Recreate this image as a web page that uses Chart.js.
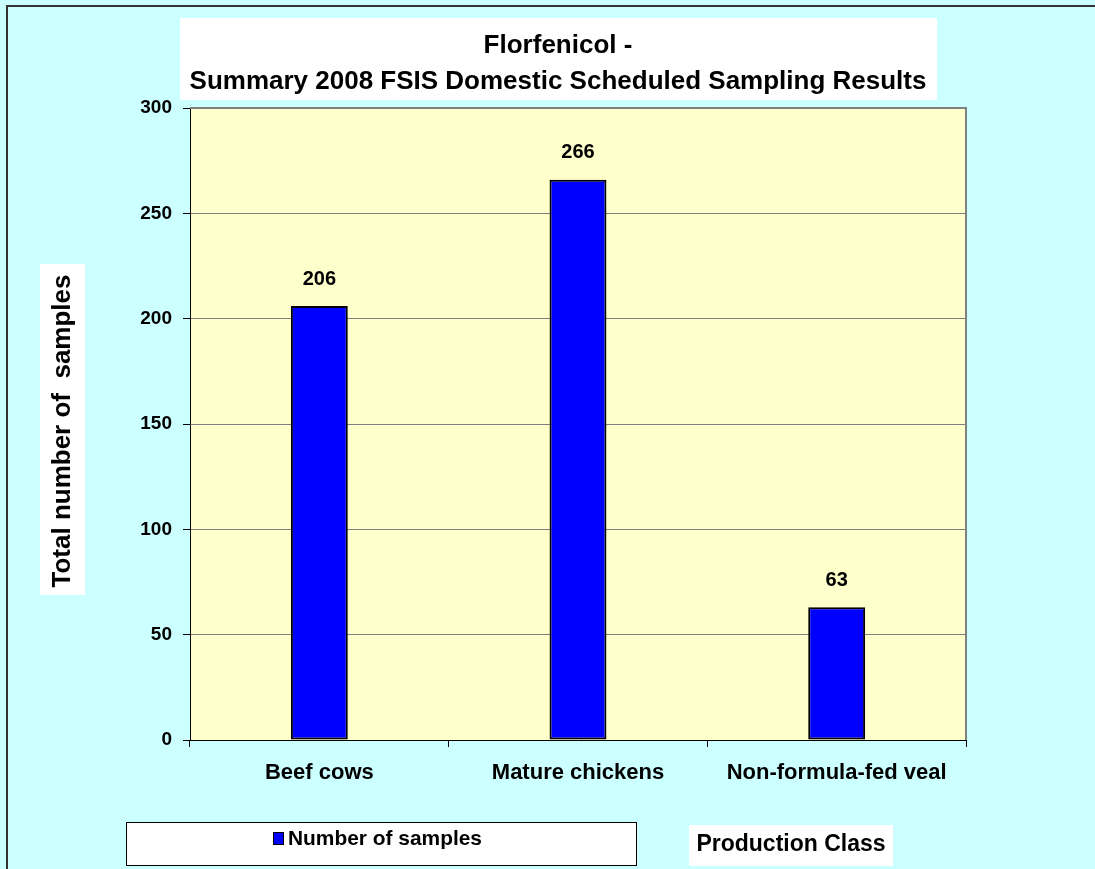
<!DOCTYPE html>
<html>
<head>
<meta charset="utf-8">
<title>Florfenicol - Summary 2008 FSIS Domestic Scheduled Sampling Results</title>
<script src="https://cdn.jsdelivr.net/npm/chart.js@4.4.1/dist/chart.umd.min.js"></script>
<style>
  html, body { margin: 0; padding: 0; background: #CCFFFF; }
  #wrap { width: 1095px; height: 869px; }
</style>
</head>
<body>
<div id="wrap"><canvas id="samplesChart" width="1095" height="869"></canvas></div>
<script>
// Data
const productionClasses = ['Beef cows', 'Mature chickens', 'Non-formula-fed veal'];
const sampleCounts = [206, 266, 63];
const yTicks = [0, 50, 100, 150, 200, 250, 300];
const seriesLabel = 'Number of samples';
const titleLines = ['Florfenicol -', 'Summary 2008 FSIS Domestic Scheduled Sampling Results'];
const yTitle = 'Total number of  samples';
const xTitle = 'Production Class';

const FONT = 'Arial, "Liberation Sans", sans-serif';

// draws the Excel-style decoration: backgrounds, white boxes, titles, legend, value labels
const decorations = {
    id: 'decorations',
    beforeDraw(chart) {
        const ctx = chart.ctx;
        const area = chart.chartArea;
        ctx.save();
        // page background
        ctx.fillStyle = '#CCFFFF';
        ctx.fillRect(0, 0, chart.width, chart.height);
        // outer frame (only top / left visible)
        ctx.fillStyle = '#333333';
        ctx.fillRect(6, 5, chart.width - 6, 2);
        ctx.fillRect(6, 5, 2, chart.height - 5);
        // plot area
        ctx.fillStyle = '#FFFFCC';
        ctx.fillRect(area.left, area.top, area.right - area.left, area.bottom - area.top);

        // title box
        ctx.fillStyle = '#FFFFFF';
        ctx.fillRect(180, 18, 757, 82);
        ctx.fillStyle = '#000000';
        ctx.textAlign = 'center';
        ctx.textBaseline = 'middle';
        ctx.font = 'bold 26px ' + FONT;
        ctx.fillText(titleLines[0], 558, 46, 752);
        ctx.fillText(titleLines[1], 558, 82, 752);

        // y axis title box
        ctx.fillStyle = '#FFFFFF';
        ctx.fillRect(40, 264, 45, 331);
        ctx.save();
        ctx.translate(63, 431);
        ctx.rotate(-Math.PI / 2);
        ctx.fillStyle = '#000000';
        ctx.font = 'bold 26px ' + FONT;
        ctx.fillText(yTitle, 0, 0, 320);
        ctx.restore();

        // legend box
        ctx.fillStyle = '#FFFFFF';
        ctx.fillRect(126, 822, 511, 44);
        ctx.strokeStyle = '#000000';
        ctx.lineWidth = 1;
        ctx.strokeRect(126.5, 822.5, 510, 43);
        const ds = chart.data.datasets[0];
        ctx.fillStyle = ds.backgroundColor;
        ctx.fillRect(273, 832, 11, 13);
        ctx.strokeRect(273.5, 832.5, 10, 12);
        ctx.fillStyle = '#000000';
        ctx.textAlign = 'left';
        ctx.font = 'bold 21px ' + FONT;
        ctx.fillText(ds.label, 288, 839, 194);

        // production class box
        ctx.fillStyle = '#FFFFFF';
        ctx.fillRect(689, 825, 204, 41);
        ctx.fillStyle = '#000000';
        ctx.textAlign = 'center';
        ctx.font = 'bold 23px ' + FONT;
        ctx.fillText(xTitle, 791, 845, 192);
        ctx.restore();
    },
    beforeDatasetsDraw(chart) {
        const ctx = chart.ctx;
        const area = chart.chartArea;
        ctx.save();
        ctx.strokeStyle = '#808080';
        ctx.lineWidth = 2;
        ctx.beginPath();
        ctx.moveTo(area.left, area.top);
        ctx.lineTo(area.right, area.top);
        ctx.lineTo(area.right, area.bottom);
        ctx.stroke();
        ctx.restore();
    },
    afterDatasetsDraw(chart) {
        const ctx = chart.ctx;
        const meta = chart.getDatasetMeta(0);
        ctx.save();
        ctx.fillStyle = '#000000';
        ctx.font = 'bold 20px ' + FONT;
        ctx.textAlign = 'center';
        ctx.textBaseline = 'middle';
        meta.data.forEach((bar, i) => {
            ctx.fillText(String(chart.data.datasets[0].data[i]), bar.x, bar.y - 27);
        });
        ctx.restore();
    }
};

const ctx = document.getElementById('samplesChart').getContext('2d');
new Chart(ctx, {
    type: 'bar',
    data: {
        labels: productionClasses,
        datasets: [{
            label: seriesLabel,
            data: sampleCounts,
            backgroundColor: '#0000FF',
            borderColor: '#000000',
            borderWidth: 2,
            borderSkipped: false,
            barPercentage: 0.22,
            categoryPercentage: 1
        }]
    },
    options: {
        responsive: false,
        animation: false,
        layout: {
            padding: { left: 0, top: 108, right: 129, bottom: 69 }
        },
        plugins: {
            legend: { display: false },
            title: { display: false },
            tooltip: { enabled: false }
        },
        scales: {
            y: {
                min: 0,
                max: 300,
                afterFit(scale) { scale.width = 190; },
                afterBuildTicks(scale) { scale.ticks = yTicks.map(v => ({ value: v })); },
                border: { color: '#000000', width: 1 },
                grid: { color: '#808080', lineWidth: 1, tickLength: 7, tickColor: '#000000' },
                ticks: {
                    color: '#000000',
                    padding: 11,
                    font: { family: FONT, size: 19, weight: 'bold' }
                }
            },
            x: {
                afterFit(scale) { scale.height = 60; },
                border: { color: '#000000', width: 1 },
                grid: { drawOnChartArea: false, tickLength: 7, tickColor: '#000000', offset: true },
                ticks: {
                    color: '#000000',
                    padding: 13,
                    font: { family: FONT, size: 22, weight: 'bold' }
                }
            }
        }
    },
    plugins: [decorations]
});
</script>
</body>
</html>
